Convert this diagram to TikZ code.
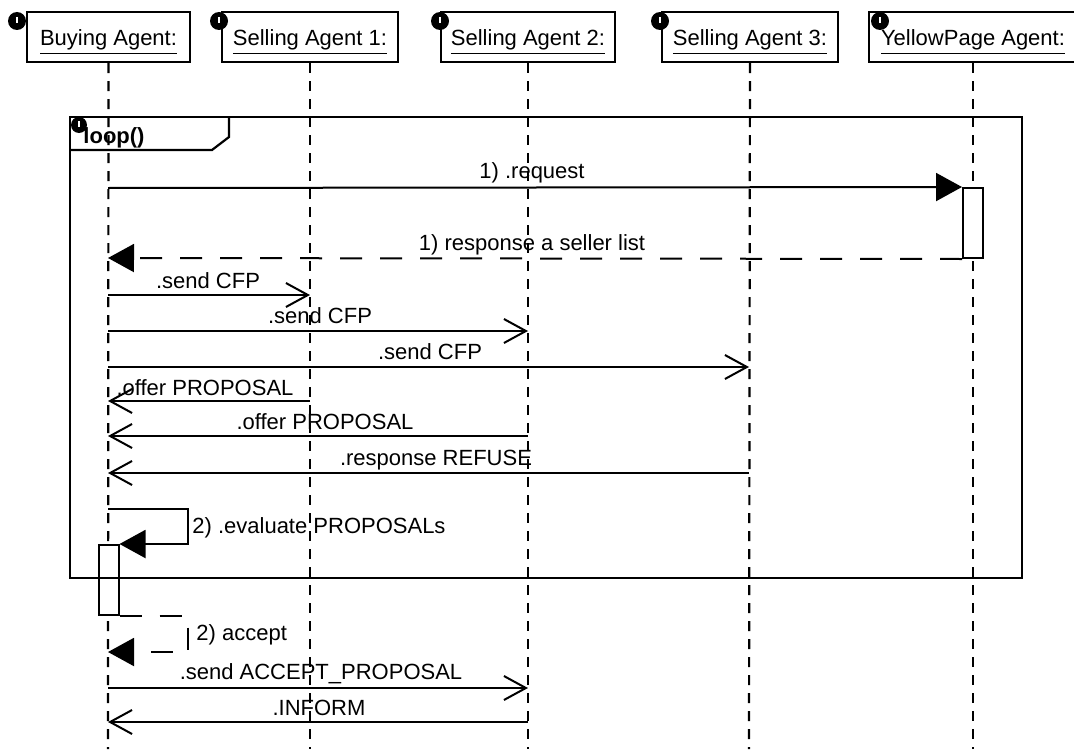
\documentclass[tikz,border=0pt]{standalone}
\usepackage{fontspec}
\setmainfont{Liberation Sans}
\usetikzlibrary{arrows.meta}

\tikzset{
    agent/.style={draw, line width=1.1pt, minimum height=25pt, inner sep=0pt, text height=8.6pt, text depth=0pt},
    lifeline/.style={line width=1.1pt, dash pattern=on 5pt off 4pt},
    bar/.style={draw, line width=1pt, fill=white, minimum width=10pt, minimum height=35pt, inner sep=0pt},
    bulb/.style={circle, fill=black, minimum size=9pt, inner sep=0pt,
        path picture={\draw[white, line width=0.8pt] (path picture bounding box.center) ++(0,-4) -- ++(0,6);}},
    msg/.style={inner sep=0pt},
    call/.style={line width=1pt, -{Triangle[length=13pt,width=14pt]}},
    reply/.style={line width=1pt, dash pattern=on 11pt off 9pt, -{Triangle[length=13pt,width=14pt]}},
    async/.style={line width=1pt, -{Straight Barb[length=11pt,width=12pt,line width=1pt]}}
}

\begin{document}
\begin{tikzpicture}[x=0.5pt, y=-0.5pt, every node/.style={font=\fontsize{11}{13}\selectfont}]
    \useasboundingbox (0,0) rectangle (1074,749);

    % Agents
    \node[agent, minimum width=81.5pt] (buying) at (108.5,37) {\underline{Buying Agent:}};
    \node[agent, minimum width=88pt] (seller1) at (310,37) {\underline{Selling Agent 1:}};
    \node[agent, minimum width=87pt] (seller2) at (528,37) {\underline{Selling Agent 2:}};
    \node[agent, minimum width=88pt] (seller3) at (750,37) {\underline{Selling Agent 3:}};
    \node[agent, minimum width=104pt] (yellow) at (973,37) {\underline{YellowPage Agent:}};

    % Message rows on each lifeline
    \foreach \n/\y in {1/188, 2/258, 3/295, 4/331, 5/367, 6/401, 7/436, 8/473, 9/509, 10/652, 11/688, 12/722, 13/749}
        \foreach \a/\x in {buying/108, seller1/310, seller2/528, seller3/749, yellow/973}
            \coordinate (\a\n) at (\x,\y);

    % Lifelines
    \foreach \a in {buying, seller1, seller2, seller3, yellow}
        \draw[lifeline] (\a) -- (\a13);

    % Activation bars
    \node[bar] (yellowbar) at (973,223) {};
    \node[bar] (buyingbar) at (108.5,580) {};

    % Loop frame
    \node[draw, line width=1.1pt, minimum width=476pt, minimum height=230.5pt, inner sep=0pt] (frame) at (546,347.5) {};
    \coordinate (tabtop) at (229,117);
    \coordinate (tableft) at (70,150);
    \draw[line width=1.1pt] (tableft) -- (212,150) -- (229,137) -- (tabtop);
    \node[msg, font=\fontsize{11}{13}\selectfont\bfseries] (looplabel) at (114,138) {loop()};

    % Bulbs
    \node[bulb] (bulb1) at (17,21) {};
    \node[bulb] (bulb2) at (219,21) {};
    \node[bulb] (bulb3) at (440,21) {};
    \node[bulb] (bulb4) at (660,21) {};
    \node[bulb] (bulb5) at (880,21) {};
    \node[bulb, minimum size=8pt] (bulb6) at (79,125) {};

    % Yellow page lookup
    \draw[call] (buying1) -- (yellowbar.north west);
    \node[msg] (request) at (532,173) {1) .request};
    \draw[reply] (yellowbar.south west) -- (buying2);
    \node[msg] (sellerlist) at (532,245) {1) response a seller list};

    % Calls for proposals
    \draw[async] (buying3) -- (seller13);
    \node[msg] (cfp1) at (208,281) {.send CFP};
    \draw[async] (buying4) -- (seller24);
    \node[msg] (cfp2) at (320,316) {.send CFP};
    \draw[async] (buying5) -- (seller35);
    \node[msg] (cfp3) at (430,352) {.send CFP};

    % Answers
    \draw[async] (seller16) -- (buying6);
    \node[msg] (offer1) at (205,388) {.offer PROPOSAL};
    \draw[async] (seller27) -- (buying7);
    \node[msg] (offer2) at (325,422) {.offer PROPOSAL};
    \draw[async] (seller38) -- (buying8);
    \node[msg] (refuse) at (436,460) {.response REFUSE};

    % Evaluation
    \coordinate (selfturn) at (188,527);
    \draw[call] (buying9) -| (selfturn) |- (buyingbar.north east);
    \node[msg, anchor=west] (evaluate) at (192,528) {2) .evaluate PROPOSALs};
    \draw[reply] (buyingbar.south east) -| (selfturn |- buying10) -- (buying10);
    \node[msg, anchor=west] (accept) at (196,635) {2) accept};

    % Accept and inform
    \draw[async] (buying11) -- (seller211);
    \node[msg] (sendaccept) at (321,674) {.send ACCEPT\_PROPOSAL};
    \draw[async] (seller212) -- (buying12);
    \node[msg] (inform) at (319,708) {.INFORM};
\end{tikzpicture}
\end{document}
